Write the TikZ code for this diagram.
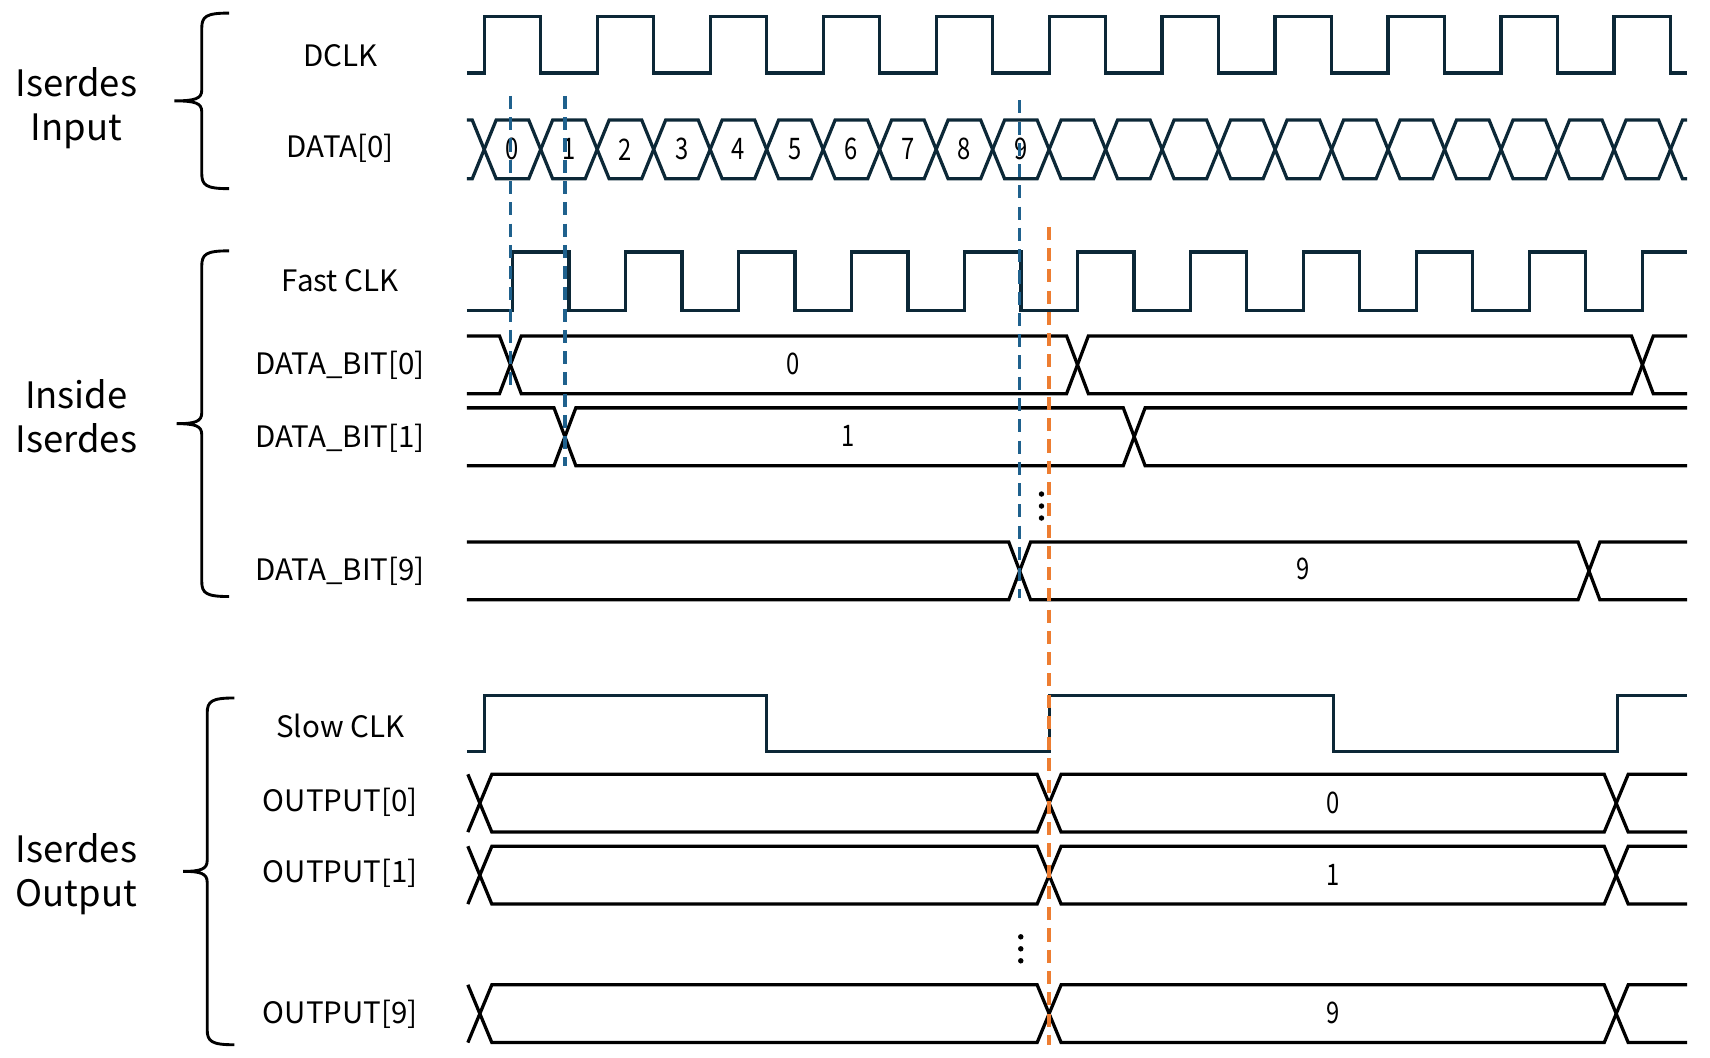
\documentclass[tikz,border=0pt]{standalone}
\usepackage{fontspec}
\setmainfont{Noto Sans CJK JP}
\newfontfamily\numfont{Noto Sans CJK JP}[FakeStretch=0.8]
\usetikzlibrary{positioning}

\definecolor{wavenavy}{RGB}{12,40,55}
\definecolor{sampleblue}{RGB}{31,97,141}
\definecolor{latchorange}{RGB}{237,125,49}

% 左侧分组大括号: #1 竖线 x, #2 上端 y, #3 下端 y, #4 尖端 x
\newcommand{\iobrace}[4]{%
  \draw[brc] ({#1+25},#2) .. controls ({#1+4},#2) and (#1,{#2+3}) .. (#1,{#2+14})
    -- (#1,{(#2+#3)/2-10}) .. controls (#1,{(#2+#3)/2-2}) and ({#1-6},{(#2+#3)/2}) .. (#4,{(#2+#3)/2})
    .. controls ({#1-6},{(#2+#3)/2}) and (#1,{(#2+#3)/2+2}) .. (#1,{(#2+#3)/2+10})
    -- (#1,{#3-14}) .. controls (#1,{#3-3}) and ({#1+4},#3) .. ({#1+25},#3);}

\begin{document}
\begin{tikzpicture}[x=0.02cm, y=-0.02cm,
    clk/.style={draw=wavenavy, line width=1.7pt},
    bus/.style={draw=black, line width=1.7pt},
    brc/.style={draw=black, line width=1.5pt},
    sig/.style={font=\fontsize{15.4}{18}\selectfont, inner sep=0pt},
    grp/.style={font=\fontsize{19}{23}\selectfont, align=center, inner sep=0pt},
    num/.style={font=\numfont\fontsize{15.5}{18}\selectfont, inner sep=0pt},
    smp/.style={draw=sampleblue, line width=1.8pt, dash pattern=on 0.24cm off 0.15cm},
    latch/.style={draw=latchorange, line width=1.8pt, dash pattern=on 0.24cm off 0.15cm}]

    \useasboundingbox (0,0) rectangle (1568,970);

    % DCLK 半周期与第一个边沿
    \def\T{51.8}
    \def\xo{444}

    % 1. 分组标签与大括号
    \node[grp] (grpin)  at (70,99)  {Iserdes\\Input};
    \node[grp] (grpmid) at (70,382) {Inside\\Iserdes};
    \node[grp] (grpout) at (70,802) {Iserdes\\Output};
    \iobrace{185}{12}{173}{160}
    \iobrace{185}{230}{547}{162}
    \iobrace{190}{640}{958}{168}

    % 2. 信号名
    \node[sig] (dclk)  at (312,51)  {DCLK};
    \node[sig] (data0) at (312,136) {DATA[0]};
    \node[sig] (fclk)  at (312,257) {Fast CLK};
    \node[sig] (bit0)  at (312,335) {DATA\_BIT[0]};
    \node[sig] (bit1)  at (312,402) {DATA\_BIT[1]};
    \node[sig] (bit9)  at (312,524) {DATA\_BIT[9]};
    \node[sig] (sclk)  at (312,666) {Slow CLK};
    \node[sig] (out0)  at (312,736) {OUTPUT[0]};
    \node[sig] (out1)  at (312,801) {OUTPUT[1]};
    \node[sig] (out9)  at (312,930) {OUTPUT[9]};

    % 3. DCLK
    \draw[clk] (428,67) foreach \k in {0,2,...,20} {
        -- ({\xo+\k*\T},67) -- ({\xo+\k*\T},15)
        -- ({\xo+(\k+1)*\T},15) -- ({\xo+(\k+1)*\T},67)} -- (1547,67);

    % 4. DATA[0] (每个 DCLK 边沿切换一次)
    \draw[clk] (428,110) foreach \k in {0,2,...,20} {
        -- ({\xo+\k*\T-11},110) -- ({\xo+\k*\T+11},164)
        -- ({\xo+(\k+1)*\T-11},164) -- ({\xo+(\k+1)*\T+11},110)} -- (1547,110);
    \draw[clk] (428,164) foreach \k in {0,2,...,20} {
        -- ({\xo+\k*\T-11},164) -- ({\xo+\k*\T+11},110)
        -- ({\xo+(\k+1)*\T-11},110) -- ({\xo+(\k+1)*\T+11},164)} -- (1547,164);
    \foreach \k in {0,...,9}
        \node[num] (d\k) at ({\xo+(\k+0.5)*\T},137) {\k};

    % 5. Fast CLK (相对 DCLK 移半个半周期)
    \draw[clk] (428,285) foreach \k in {0,2,...,18} {
        -- ({\xo+(\k+0.5)*\T},285) -- ({\xo+(\k+0.5)*\T},231)
        -- ({\xo+(\k+1.5)*\T},231) -- ({\xo+(\k+1.5)*\T},285)}
        -- ({\xo+20.5*\T},285) -- ({\xo+20.5*\T},231) -- (1547,231);

    % 6. DATA_BIT[0], [1], [9]
    \draw[bus] (428,308) -- (458,308) -- (478,361) -- (978,361) -- (998,308) -- (1496,308) -- (1516,361) -- (1547,361);
    \draw[bus] (428,361) -- (458,361) -- (478,308) -- (978,308) -- (998,361) -- (1496,361) -- (1516,308) -- (1547,308);
    \node[num] (v0) at (727,334) {0};

    \draw[bus] (428,374) -- (508,374) -- (528,427) -- (1030,427) -- (1050,374) -- (1547,374);
    \draw[bus] (428,427) -- (508,427) -- (528,374) -- (1030,374) -- (1050,427) -- (1547,427);
    \node[num] (v1) at (778,400) {1};

    \fill (955,453) circle (2.5) (955,464) circle (2.5) (955,475) circle (2.5);

    \draw[bus] (428,497) -- (925,497) -- (945,550) -- (1447,550) -- (1467,497) -- (1547,497);
    \draw[bus] (428,550) -- (925,550) -- (945,497) -- (1447,497) -- (1467,550) -- (1547,550);
    \node[num] (v9) at (1195,522) {9};

    % 7. Slow CLK (5 个 DCLK 半周期)
    \draw[clk] (428,689) -- (\xo,689) -- (\xo,638) -- ({\xo+5*\T},638) -- ({\xo+5*\T},689)
        -- ({\xo+10*\T},689) -- ({\xo+10*\T},638) -- ({\xo+15*\T+2},638) -- ({\xo+15*\T+2},689)
        -- ({\xo+20*\T+3},689) -- ({\xo+20*\T+3},638) -- (1547,638);

    % 8. OUTPUT[0], [1], [9]
    \foreach \top/\val/\nm in {710/0/o0, 776/1/o1, 903/9/o9} {
        \draw[bus] (429,\top) -- (451,\top+53) -- (951,\top+53) -- (973,\top) -- (1471,\top) -- (1493,\top+53) -- (1547,\top+53);
        \draw[bus] (429,\top+53) -- (451,\top) -- (951,\top) -- (973,\top+53) -- (1471,\top+53) -- (1493,\top) -- (1547,\top);
        \node[num] (\nm) at (1222,\top+26) {\val};
    }

    \fill (936,859) circle (2.5) (936,870) circle (2.5) (936,881) circle (2.5);

    % 9. 采样虚线
    \draw[smp] (468,88) -- (468,360);
    \draw[smp] (518,88) -- (518,427);
    \draw[smp] (935,92) -- (935,548);
    \draw[latch] (962,208) -- (962,958);

\end{tikzpicture}
\end{document}
